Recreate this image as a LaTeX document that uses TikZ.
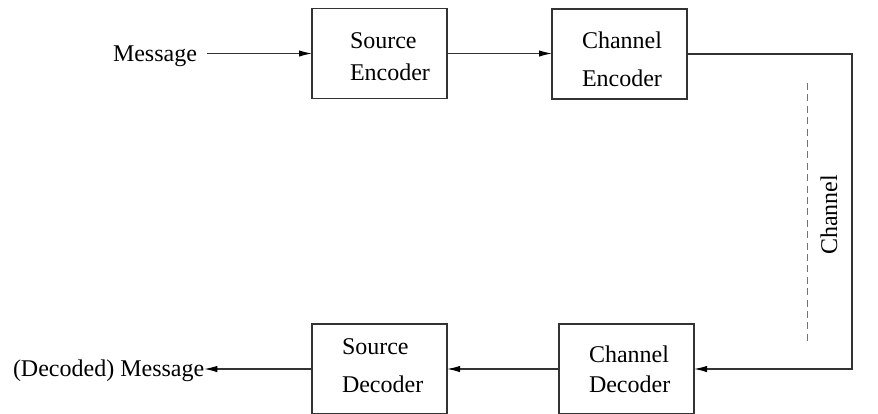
\documentclass[tikz,border=0pt]{standalone}
\usepackage{fontspec}
\setmainfont{Liberation Serif}
\usetikzlibrary{arrows.meta}
\begin{document}
\begin{tikzpicture}[x=0.5pt,y=-0.5pt,
  every node/.style={font=\fontsize{12}{14}\selectfont, inner sep=0pt, outer sep=0pt},
  blk/.style={draw=black!80, line width=0.55pt, minimum width=67.5pt, minimum height=45pt},
  txt/.style={anchor=base west},
  conn/.style={draw=black!80, line width=0.55pt},
  arr/.style={conn, -{Latex[length=6.5pt,width=3.2pt,fill=black,color=black]}},
  chdash/.style={draw=black!55, line width=0.5pt, dash pattern=on 3.5pt off 2.2pt}]
\clip (0,0) rectangle (878,413);
% boxes
\node[blk] (se) at (379.5,53.5) {};
\node[blk] (ce) at (619.5,54) {};
\node[blk] (sd) at (379.5,369) {};
\node[blk] (cd) at (626.5,369) {};
% box texts
\node[txt] (se1) at (350,48) {Source};
\node[txt] (se2) at (350,80) {Encoder};
\node[txt] (ce1) at (582,48) {Channel};
\node[txt] (ce2) at (582,86) {Encoder};
\node[txt] (sd1) at (342,354) {Source};
\node[txt] (sd2) at (342,392) {Decoder};
\node[txt] (cd1) at (589,362) {Channel};
\node[txt] (cd2) at (589,392) {Decoder};
% outer texts
\node[txt, inner xsep=5pt] (msg) at (103,61) {Message};
\node[txt] (dmsg) at (13,376) {(Decoded) Message};
\node[rotate=90, anchor=base] (chl) at (837,215) {Channel};
% connectors
\draw[arr] (msg.east |- se.west) -- (se.west);
\draw[arr] (se.east) -- (se.east -| ce.west);
\coordinate (ch) at (852,200);
\draw[arr] (ce.east) -| (ch) |- (cd.east);
\draw[arr] (cd.west) -- (sd.east);
\draw[arr] (sd.west) -- (sd.west -| dmsg.east);
\coordinate (d1) at (807,83);
\coordinate (d2) at (807,342);
\draw[chdash] (d1) -- (d2);
\end{tikzpicture}
\end{document}
